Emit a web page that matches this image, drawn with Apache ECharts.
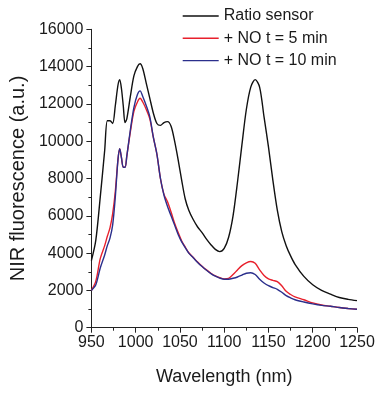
<!DOCTYPE html>
<html>
<head>
<meta charset="utf-8">
<script src="https://cdn.jsdelivr.net/npm/echarts@6/dist/echarts.min.js"></script>
<style>
html,body{margin:0;padding:0;background:#fff;}
#chart{width:381px;height:395px;}
</style>
</head>
<body>
<div id="chart"></div>
<script>
const wavelengths = [950,955,960,965,968,971,974,977,980,982,984,986,988,990,994,998,1002,1005,1008,1012,1016,1020,1024,1028,1032,1036,1040,1044,1048,1052,1056,1060,1065,1070,1075,1080,1085,1090,1095,1100,1105,1110,1115,1120,1125,1130,1135,1140,1145,1150,1155,1160,1165,1170,1175,1180,1190,1200,1210,1220,1230,1240,1250];

const ratioSensor = [3600,4700,7000,9500,11100,11100,10950,11900,13000,13300,12800,11900,11000,11200,12400,13500,14000,14150,13900,13100,12300,11500,10950,10850,11000,11050,10800,10000,9000,7900,6900,6300,5800,5400,5100,4750,4450,4200,4080,4250,4850,6000,7800,9800,11700,12900,13300,12900,11300,9700,7900,6300,5150,4400,3850,3400,2750,2300,2000,1800,1620,1520,1450];

const no5min = [2000,2500,3700,4400,4900,5350,6100,7300,9000,9600,9100,8600,8600,9200,10500,11600,12100,12300,12100,11700,11200,10200,9300,8000,7150,6750,6200,5600,5100,4650,4320,4020,3770,3520,3300,3100,2920,2780,2680,2620,2650,2850,3100,3330,3480,3550,3450,3100,2800,2620,2540,2470,2250,1950,1780,1650,1500,1330,1220,1150,1080,1030,990];

const no10min = [2000,2300,3200,3900,4400,4800,5500,7000,9000,9600,9100,8600,8600,9200,10600,11800,12500,12700,12400,11900,11300,10200,9300,8000,7100,6500,6000,5500,5000,4600,4300,4000,3750,3500,3280,3080,2900,2760,2660,2600,2600,2650,2720,2820,2920,2950,2850,2600,2400,2250,2150,2060,1900,1720,1600,1500,1380,1280,1200,1150,1080,1030,990];

const seriesNames = ['Ratio sensor', '+ NO t = 5 min', '+ NO t = 10 min'];
const seriesColors = ['#111111', '#e8202c', '#2b2f8c'];
const seriesData = [ratioSensor, no5min, no10min];

const xTitle = 'Wavelength (nm)';
const yTitle = 'NIR fluorescence (a.u.)';

const chart = echarts.init(document.getElementById('chart'));
const font = 'Liberation Sans, Arial, sans-serif';
const axisColor = '#222';

chart.setOption({
  animation: false,
  backgroundColor: '#fff',
  textStyle: { fontFamily: font },
  grid: { left: 87, right: 24, top: 29.3, bottom: 67.3, containLabel: false },
  legend: {
    orient: 'vertical',
    left: 182,
    top: 8,
    padding: 0,
    itemWidth: 36,
    itemHeight: 14,
    itemGap: 6.3,
    itemStyle: { opacity: 0 },
    lineStyle: { width: 1.4 },
    textStyle: { fontSize: 16, color: '#1a1a1a', fontFamily: font },
    data: seriesNames
  },
  xAxis: {
    type: 'value',
    min: 950, max: 1250, interval: 50,
    name: xTitle,
    nameLocation: 'middle',
    nameGap: 40,
    nameTextStyle: { fontSize: 18, color: '#1a1a1a', fontFamily: font },
    axisLine: { lineStyle: { color: axisColor, width: 1 } },
    axisTick: { show: true, inside: false, length: 5, lineStyle: { color: axisColor } },
    minorTick: { show: true, splitNumber: 2, length: 3, lineStyle: { color: axisColor } },
    axisLabel: { fontSize: 16, color: '#1a1a1a', margin: 7, fontFamily: font, formatter: v => String(v) },
    splitLine: { show: false }
  },
  yAxis: {
    type: 'value',
    min: 0, max: 16000, interval: 2000,
    name: yTitle,
    nameLocation: 'middle',
    nameGap: 57,
    nameRotate: 90,
    nameTextStyle: { fontSize: 20, color: '#1a1a1a', fontFamily: font },
    axisLine: { show: true, lineStyle: { color: axisColor, width: 1 } },
    axisTick: { show: true, inside: false, length: 5, lineStyle: { color: axisColor } },
    minorTick: { show: true, splitNumber: 2, length: 3, lineStyle: { color: axisColor } },
    axisLabel: { fontSize: 16, color: '#1a1a1a', margin: 8, fontFamily: font, formatter: v => String(v) },
    splitLine: { show: false }
  },
  series: seriesNames.map((name, i) => ({
    name: name,
    type: 'line',
    symbol: 'none',
    smooth: 0.3,
    color: seriesColors[i],
    lineStyle: { color: seriesColors[i], width: 1.4 },
    data: wavelengths.map((w, j) => [w, seriesData[i][j]])
  }))
});
</script>
</body>
</html>
